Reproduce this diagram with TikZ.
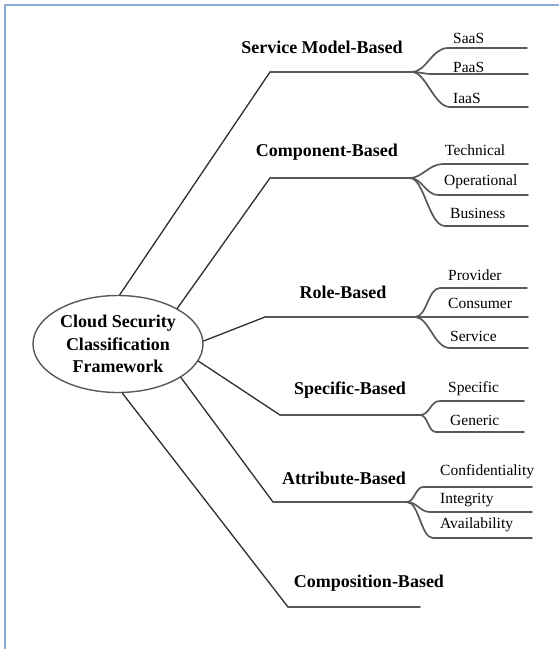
\documentclass[tikz,border=0pt]{standalone}
\usepackage{fontspec}
\setmainfont{Liberation Serif}
\usetikzlibrary{shapes.geometric}
\definecolor{frameblue}{RGB}{143,170,218}
\definecolor{branchgray}{RGB}{88,88,88}
\definecolor{stemgray}{RGB}{45,45,45}

\begin{document}
\begin{tikzpicture}[x=1pt,y=-1pt,
  rootnode/.style={ellipse, draw=branchgray, line width=1.4pt, minimum width=170pt,
    minimum height=97pt, inner sep=0pt, align=center,
    font=\fontsize{18}{22.5}\selectfont\bfseries},
  catlabel/.style={font=\fontsize{18}{22}\selectfont\bfseries, inner sep=0pt},
  leaflabel/.style={font=\fontsize{15.5}{18}\selectfont, inner sep=0pt, anchor=west},
  stemline/.style={draw=stemgray, line width=1.3pt, line cap=round},
  barline/.style={draw=branchgray, line width=1.9pt, line cap=round},
  twigline/.style={draw=branchgray, line width=1.7pt, line cap=round, line join=round},
  edgeframe/.style={draw=frameblue, line width=2pt}
]
\useasboundingbox (0,0) rectangle (558,649);

% page frame (top and left edges)
\coordinate (frameBL) at (4.5,652);
\coordinate (frameTL) at (4.5,4.5);
\coordinate (frameTR) at (561,4.5);
\draw[edgeframe] (frameBL) -- (frameTL) -- (frameTR);

% central concept
\node[rootnode] (root) at (118,344) {Cloud Security\\Classification\\Framework};

% category labels
\node[catlabel] (svc)  at (322,47)  {Service Model-Based};
\node[catlabel] (cmp)  at (327,152) {Component-Based};
\node[catlabel] (role) at (343,292) {Role-Based};
\node[catlabel] (spec) at (350,390) {Specific-Based};
\node[catlabel] (attr) at (344,478) {Attribute-Based};
\node[catlabel] (comp) at (369,583) {Composition-Based};

% branch corners and junctions
\coordinate (c1) at (270,72);  \coordinate (j1) at (412,72);
\coordinate (c2) at (270,178); \coordinate (j2) at (410,178);
\coordinate (c3) at (265,317); \coordinate (j3) at (415,317);
\coordinate (c4) at (280,415); \coordinate (j4) at (420,415);
\coordinate (c5) at (273,502); \coordinate (j5) at (407,502);
\coordinate (c6) at (288,607); \coordinate (j6) at (420,607);

% stems from the central ellipse
\draw[stemline] (root.88)  -- (c1);
\draw[stemline] (root.31)  -- (c2);
\draw[stemline] (root.2)   -- (c3);
\draw[stemline] (root.-12) -- (c4);
\draw[stemline] (root.-28) -- (c5);
\draw[stemline] (root.-85) -- (c6);

% main branch bars
\draw[barline] (c1) -- (j1);
\draw[barline] (c2) -- (j2);
\draw[barline] (c3) -- (j3);
\draw[barline] (c4) -- (j4);
\draw[barline] (c5) -- (j5);
\draw[barline] (c6) -- (j6);

% sub-branch ends
\coordinate (s1a) at (448,48);  \coordinate (e1a) at (527,48);
\coordinate (s1b) at (432,74);  \coordinate (e1b) at (528,74);
\coordinate (s1c) at (450,107); \coordinate (e1c) at (528,107);

\coordinate (s2a) at (443,164); \coordinate (e2a) at (528,164);
\coordinate (s2b) at (438,195); \coordinate (e2b) at (528,195);
\coordinate (s2c) at (445,226); \coordinate (e2c) at (528,226);

\coordinate (s3a) at (440,288); \coordinate (e3a) at (527,288);
\coordinate (e3b) at (528,317);
\coordinate (s3c) at (450,348); \coordinate (e3c) at (528,348);

\coordinate (s4a) at (440,401); \coordinate (e4a) at (524,401);
\coordinate (s4b) at (436,432); \coordinate (e4b) at (524,432);

\coordinate (s5a) at (423,487); \coordinate (e5a) at (532,487);
\coordinate (s5b) at (430,512); \coordinate (e5b) at (532,512);
\coordinate (s5c) at (433,538); \coordinate (e5c) at (532,538);

% sub-branches
\draw[twigline] (j1) .. controls +(14,0) and +(-16,0) .. (s1a) -- (e1a);
\draw[twigline] (j1) .. controls +(8,0) and +(-8,0) .. (s1b) -- (e1b);
\draw[twigline] (j1) .. controls +(14,0) and +(-16,0) .. (s1c) -- (e1c);

\draw[twigline] (j2) .. controls +(12,0) and +(-14,0) .. (s2a) -- (e2a);
\draw[twigline] (j2) .. controls +(12,0) and +(-12,0) .. (s2b) -- (e2b);
\draw[twigline] (j2) .. controls +(14,0) and +(-16,0) .. (s2c) -- (e2c);

\draw[twigline] (j3) .. controls +(12,0) and +(-12,0) .. (s3a) -- (e3a);
\draw[twigline] (j3) -- (e3b);
\draw[twigline] (j3) .. controls +(14,0) and +(-16,0) .. (s3c) -- (e3c);

\draw[twigline] (j4) .. controls +(10,0) and +(-10,0) .. (s4a) -- (e4a);
\draw[twigline] (j4) .. controls +(8,0) and +(-8,0) .. (s4b) -- (e4b);

\draw[twigline] (j5) .. controls +(7,0) and +(-7,0) .. (s5a) -- (e5a);
\draw[twigline] (j5) .. controls +(10,0) and +(-10,0) .. (s5b) -- (e5b);
\draw[twigline] (j5) .. controls +(12,0) and +(-12,0) .. (s5c) -- (e5c);

% leaf labels
\node[leaflabel] (saas) at (453,38) {SaaS};
\node[leaflabel] (paas) at (453,67) {PaaS};
\node[leaflabel] (iaas) at (453,98) {IaaS};

\node[leaflabel] (tech) at (445,150) {Technical};
\node[leaflabel] (oper) at (444,182) {Operational};
\node[leaflabel] (busi) at (450,213) {Business};

\node[leaflabel] (prov) at (448,275) {Provider};
\node[leaflabel] (cons) at (448,303) {Consumer};
\node[leaflabel] (serv) at (450,336) {Service};

\node[leaflabel] (spc)  at (448,389) {Specific};
\node[leaflabel] (gen)  at (450,420) {Generic};

\node[leaflabel] (conf) at (440,472) {Confidentiality};
\node[leaflabel] (inte) at (440,500) {Integrity};
\node[leaflabel] (avai) at (440,525) {Availability};
\end{tikzpicture}
\end{document}
